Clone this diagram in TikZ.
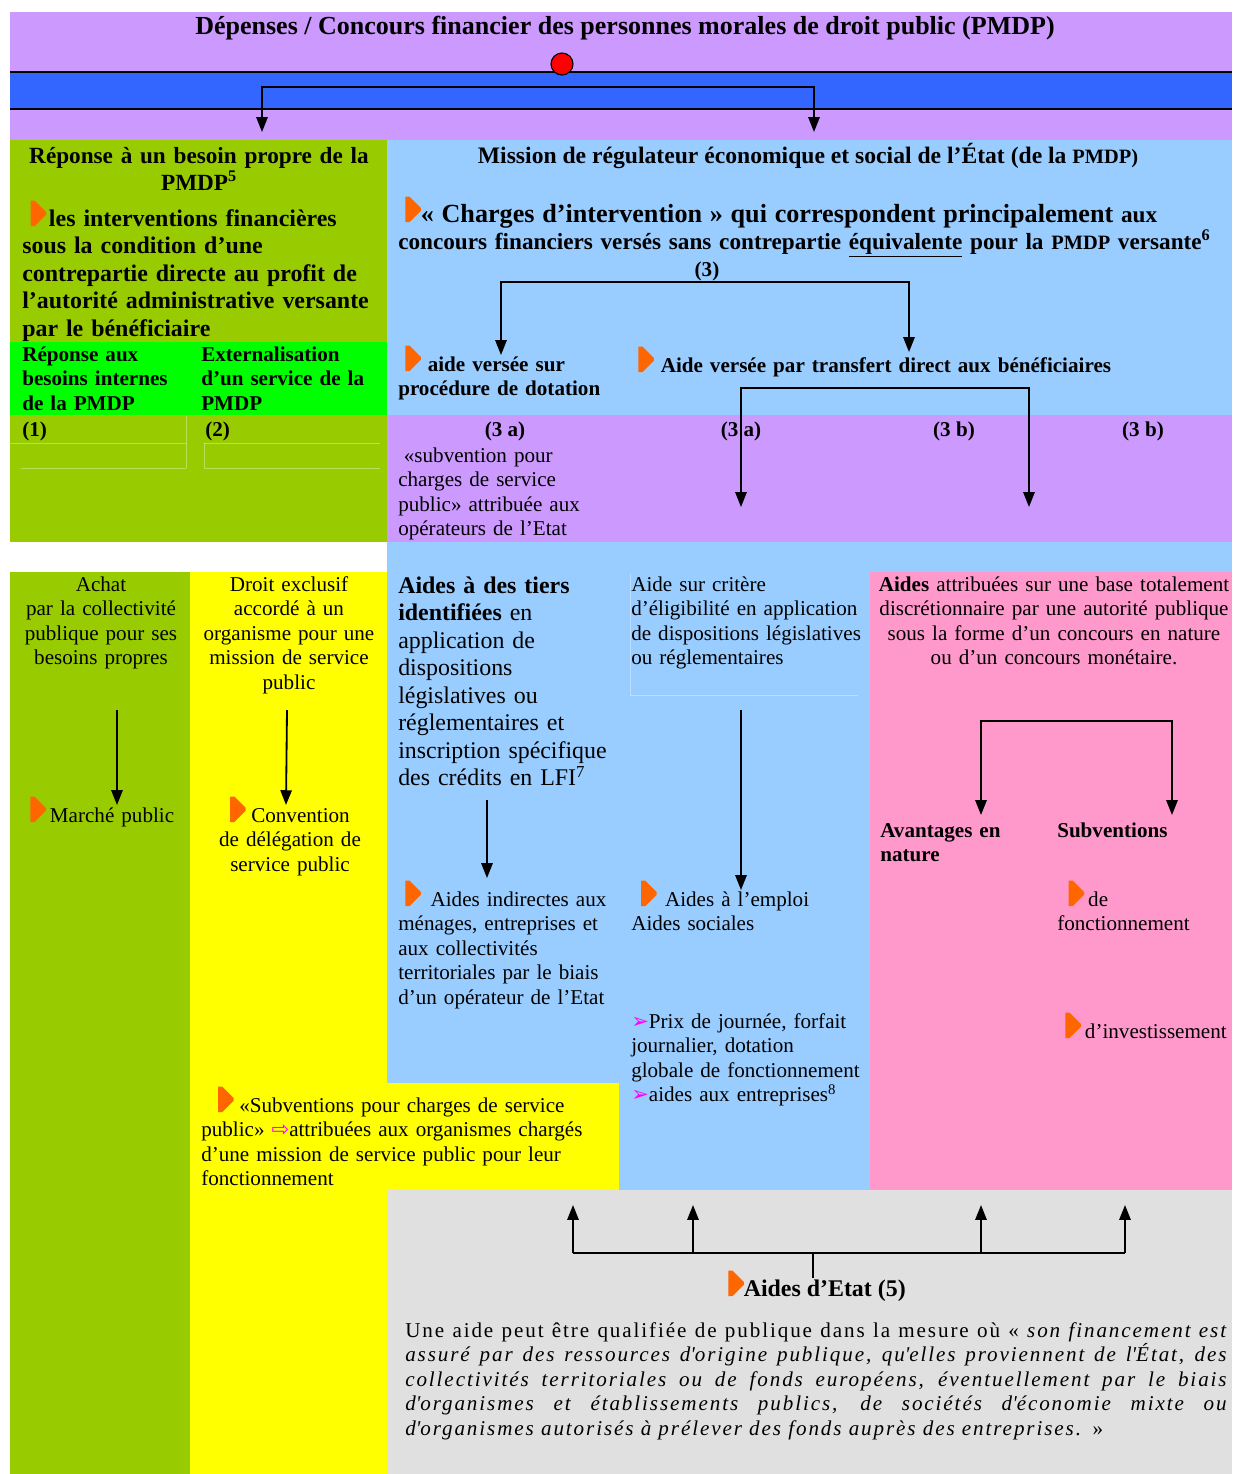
\documentclass[tikz,border=0pt]{standalone}
\usepackage{fontspec}
\setmainfont{Liberation Serif}
\newfontfamily\symb{DejaVu Sans}
\usepackage{xcolor}
\usetikzlibrary{arrows.meta}

\definecolor{mauve}{HTML}{CC99FF}
\definecolor{bleubande}{HTML}{3366FF}
\definecolor{olive}{HTML}{99CC00}
\definecolor{vertvif}{HTML}{00FF00}
\definecolor{ciel}{HTML}{99CCFF}
\definecolor{jaune}{HTML}{FFFF00}
\definecolor{rose}{HTML}{FF99CC}
\definecolor{grisclair}{HTML}{E0E0E0}
\definecolor{orangetri}{HTML}{FF6600}
\definecolor{magentafl}{HTML}{FF00FF}

\newcommand{\corps}{\fontsize{15}{17.43}\selectfont}
\newcommand{\grand}{\fontsize{17}{19.6}\selectfont}
% puce orange
\newcommand{\tri}{\tikz[baseline=0pt]\fill[orangetri] (0pt,0pt) -- (0pt,18pt) -- (3pt,18pt) -- (11pt,10pt) -- (11pt,8pt) -- (3pt,0pt) -- cycle;}
\newcommand{\fl}{{\symb\color{magentafl}➢}}
\newcommand{\flb}{{\symb\color{magentafl}⇨}}

\begin{document}
\begin{tikzpicture}[x=0.025cm,y=-0.025cm,
  txtl/.style={inner sep=0pt, anchor=base west, align=left, text width=#1, font=\corps},
  txtc/.style={inner sep=0pt, anchor=base, align=center, text width=#1, font=\corps},
  fleche/.style={line width=1.3pt, -{Triangle[length=10.5pt,width=8pt]}},
  bi/.style={line width=1.3pt, {Triangle[length=10.5pt,width=8pt]}-{Triangle[length=10.5pt,width=8pt]}},
  filet/.style={white, opacity=0.35, line width=0.6pt}]
\useasboundingbox (0,0) rectangle (1232,1474);

% fonds
\fill[mauve] (10,12) rectangle (1232,140);
\fill[bleubande] (10,72) rectangle (1232,109);
\draw[line width=1.4pt] (10,72) -- (1232,72);
\draw[line width=1.4pt] (10,109) -- (1232,109);
\fill[olive] (10,140) rectangle (387,542);
\fill[vertvif] (10,342) rectangle (387,415);
\fill[ciel] (387,140) rectangle (1232,415);
\fill[mauve] (387,415) rectangle (1232,542);
\fill[ciel] (387,542) rectangle (1232,572);
\fill[olive] (10,572) rectangle (190,1474);
\fill[jaune] (190,572) rectangle (387,1474);
\fill[ciel] (387,572) rectangle (619,1083);
\fill[jaune] (190,1083) rectangle (619,1190);
\fill[ciel] (619,572) rectangle (870,1190);
\fill[rose] (870,572) rectangle (1232,1190);
\fill[grisclair] (387,1190) rectangle (1232,1474);

% filets du tableau
\draw[filet] (10,443) -- (186,443) (204,443) -- (380,443);
\draw[filet] (21,468) -- (186,468) (204,468) -- (380,468);
\draw[filet] (186,416) -- (186,468) (204,443) -- (204,468);
\draw[filet] (630,574) -- (630,695) -- (858,695);

% titre
\node[inner sep=0pt, anchor=base, font=\fontsize{18.5}{21}\selectfont\bfseries] (titre) at (625,34)
  {Dépenses / Concours financier des personnes morales de droit public (PMDP)};
\node[circle, draw, fill=red, line width=0.8pt, minimum size=0.55cm, inner sep=0pt] (pastille) at (562,64) {};
\coordinate (vBesoin) at (262,132);
\coordinate (vMission) at (814,132);
\draw[bi] (vBesoin) |- (538,87) -| (vMission);

% besoin propre
\node[txtc=9.4cm, font=\fontsize{16.5}{19.2}\selectfont\bfseries] (besoin) at (199,163)
  {Réponse à un besoin propre de la\\ PMDP\textsuperscript{5}};
\node[txtl=10cm, font=\grand\bfseries] (interv) at (22,226)
  {\hspace*{6pt}\tri\hspace{2pt}les interventions financières\\ sous la condition d’une\\ contrepartie directe au profit de\\ l’autorité administrative versante\\ par le bénéficiaire};
\node[txtl=5cm, font=\corps\bfseries] (internes) at (22,361) {Réponse aux\\ besoins internes\\ de la PMDP};
\node[txtl=5cm, font=\corps\bfseries] (externe) at (201,361) {Externalisation\\ d’un service de la\\ PMDP};
\node[txtl=2cm, font=\corps\bfseries] (un) at (22,436) {(1)};
\node[txtl=2cm, font=\corps\bfseries] (deux) at (205,436) {(2)};

% mission de l'Etat
\node[inner sep=0pt, anchor=base, font=\fontsize{16.8}{19}\selectfont\bfseries] (mission) at (808,163)
  {Mission de régulateur économique et social de l’État (de la {\fontsize{14.5}{16}\selectfont PMDP)}};
\node[txtl=22cm, font=\fontsize{16.5}{19.6}\selectfont\bfseries] (charges) at (398,222)
  {{\fontsize{18.6}{19.6}\selectfont\hspace*{5pt}\tri« Charges d’intervention » qui correspondent principalement} aux\\
   concours financiers versés sans contrepartie \underline{équivalente} pour la {\fontsize{14.5}{16}\selectfont PMDP} versante\textsuperscript{6}};
\node[inner sep=0pt, anchor=base, font=\corps\bfseries] (trois) at (707,276) {(3)};
\coordinate (vDotation) at (501,355);
\coordinate (vTransfert) at (909,352);
\draw[bi] (vDotation) |- (705,282) -| (vTransfert);
\node[txtl=6cm, font=\corps\bfseries] (dotation) at (398,371)
  {\hspace*{5pt}\tri\ aide versée sur\\ procédure de dotation};
\node[txtl=15cm, font=\corps\bfseries] (transfert) at (638,372)
  {\tri\ Aide versée par transfert direct aux bénéficiaires};
\coordinate (vCritere) at (741,507);
\coordinate (vDiscret) at (1029,507);
\draw[bi] (vCritere) |- (885,388) -| (vDiscret);
\node[inner sep=0pt, anchor=base, font=\corps\bfseries] (ta) at (505,436) {(3 a)};
\node[inner sep=0pt, anchor=base, font=\corps\bfseries] (tb) at (741,436) {(3 a)};
\node[inner sep=0pt, anchor=base, font=\corps\bfseries] (tc) at (954,436) {(3 b)};
\node[inner sep=0pt, anchor=base, font=\corps\bfseries] (td) at (1143,436) {(3 b)};
\node[txtl=6cm] (subv) at (398,462)
  {\hspace*{4pt}«subvention pour\\ charges de service\\ public» attribuée aux\\ opérateurs de l’Etat};

% colonnes du bas
\node[txtc=6cm] (achat) at (101,591) {Achat\\ par la collectivité\\ publique pour ses\\ besoins propres};
\node[txtc=6cm] (droit) at (289,591) {Droit exclusif\\ accordé à un\\ organisme pour une\\ mission de service\\ public};
\coordinate (dAchat) at (117,710);
\coordinate (fAchat) at (117,805);
\coordinate (dDroit) at (287,710);
\coordinate (fDroit) at (286,805);
\draw[fleche] (dAchat) -- (fAchat);
\draw[fleche] (dDroit) -- (fDroit);
\node[txtl=5cm] (marche) at (30,822) {\tri\hspace{3pt}Marché public};
\node[txtc=6cm] (convention) at (290,822) {\tri\hspace{4pt}Convention\\ de délégation de\\ service public};

\node[txtl=7cm, font=\grand] (tiers) at (398,593)
  {\textbf{Aides à des tiers}\\ \textbf{identifiées} en\\ application de\\ dispositions\\ législatives ou\\ réglementaires et\\ inscription spécifique\\ des crédits en LFI\textsuperscript{7}};
\coordinate (dTiers) at (487,800);
\coordinate (fTiers) at (487,878);
\draw[fleche] (dTiers) -- (fTiers);
\node[txtl=7cm] (indirectes) at (398,906)
  {\hspace*{5pt}\tri\hspace{7pt}Aides indirectes aux\\ ménages, entreprises et\\ aux collectivités\\ territoriales par le biais\\ d’un opérateur de l’Etat};

\node[txtl=7cm] (critere) at (631,591)
  {Aide sur critère\\ d’éligibilité en application\\ de dispositions législatives\\ ou réglementaires};
\coordinate (dCritere) at (741,710);
\coordinate (fCritere) at (741,890);
\draw[fleche] (dCritere) -- (fCritere);
\node[txtl=6cm] (emploi) at (631,906) {\hspace*{7pt}\tri\hspace{6pt}Aides à l’emploi\\ Aides sociales};
\node[txtl=7cm] (prix) at (631,1028)
  {\fl Prix de journée, forfait\\ journalier, dotation\\ globale de fonctionnement\\ \fl aides aux entreprises\textsuperscript{8}};

\node[txtc=10cm] (discret) at (1054,591)
  {\textbf{Aides} attribuées sur une base totalement\\ discrétionnaire par une autorité publique\\ sous la forme d’un concours en nature\\ ou d’un concours monétaire.};
\coordinate (vNature) at (981,815);
\coordinate (vSubv) at (1172,815);
\draw[bi] (vNature) |- (1076,721) -| (vSubv);
\node[txtl=5cm, font=\corps\bfseries] (nature) at (880,837) {Avantages en\\ nature};
\node[txtl=5cm, font=\corps\bfseries] (subventions) at (1057,837) {Subventions};
\node[txtl=5cm] (fonct) at (1057,906) {\hspace*{8pt}\tri\hspace{3pt}de\\ fonctionnement};
\node[txtl=5cm] (invest) at (1065,1038) {\tri\hspace{3pt}d’investissement};

\node[txtl=12cm] (scsp) at (201,1112)
  {\hspace*{12pt}\tri\hspace{4pt}«Subventions pour charges de service\\ public» \flb attribuées aux organismes chargés\\ d’une mission de service public pour leur\\ fonctionnement};

% aides d'Etat
\node[inner sep=0pt, anchor=base west, font=\fontsize{17}{19}\selectfont\bfseries] (etat) at (728,1296) {\tri Aides d’Etat (5)};
\coordinate (pied) at (813,1253);
\coordinate (dEtat) at (813,1278);
\draw[line width=1.3pt] (573,1253) -- (1125,1253);
\draw[line width=1.3pt] (dEtat) -- (pied);
\foreach \x in {573,693,981,1125}
  \draw[fleche] (\x,1253) -- (\x,1205);
\node[inner sep=0pt, anchor=base west, text width=20.575cm, align=justify,
      font=\corps\addfontfeatures{LetterSpace=9}] (citation) at (405,1337)
  {Une aide peut être qualifiée de publique dans la mesure où « \textit{son financement est}\linebreak
   \textit{assuré par des ressources d\textquotesingle origine publique, qu\textquotesingle elles proviennent de l\textquotesingle État, des}\linebreak
   \textit{collectivités territoriales ou de fonds européens, éventuellement par le biais}\linebreak
   \textit{d\textquotesingle organismes et établissements publics, de sociétés d\textquotesingle économie mixte ou}\linebreak
   \textit{d\textquotesingle organismes autorisés à prélever des fonds auprès des entreprises.} »};
\end{tikzpicture}
\end{document}
